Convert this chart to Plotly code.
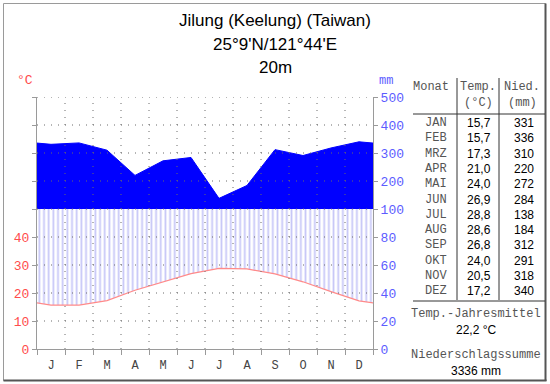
import plotly.graph_objects as go

# ---- data ----
months = ["J", "F", "M", "A", "M", "J", "J", "A", "S", "O", "N", "D"]
month_names = ["JAN", "FEB", "MRZ", "APR", "MAI", "JUN", "JUL", "AUG", "SEP", "OKT", "NOV", "DEZ"]
temps = [15.7, 15.7, 17.3, 21.0, 24.0, 26.9, 28.8, 28.6, 26.8, 24.0, 20.5, 17.2]
precip = [331, 336, 310, 220, 272, 284, 138, 184, 312, 291, 318, 340]
temp_ticks = ["0", "10", "20", "30", "40", "", "", "", "", ""]
mm_ticks = ["0", "20", "40", "60", "80", "100", "200", "300", "400", "500"]

title_lines = ["Jilung (Keelung) (Taiwan)", "25°9'N/121°44'E", "20m"]

W, H = 550, 384
L, R, T, B = 37, 373, 97, 349


def px(x):
    return (x - L) / (R - L)


def py(y):
    return (B - y) / (B - T)


def pdisp(p):
    # Walter-Lieth scale: 20 mm per 10 °C up to 100 mm, then 100 mm per 10 °C
    return p / 2 if p <= 100 else 50 + (p - 100) / 10


# wrap data (Dec before Jan, Jan after Dec), clipped by the axis range
xs = list(range(0, 14))
t_wrap = [temps[-1]] + temps + [temps[0]]
p_wrap = [precip[-1]] + precip + [precip[0]]
p_disp = [pdisp(p) for p in p_wrap]
humid_top = [min(v, 50) for v in p_disp]
base50 = [50] * len(xs)

RED = "#ff4c4c"
BLUE = "#5c5cff"
MONO = "Liberation Mono, Courier New, monospace"
SANS = "Liberation Sans, Arial, sans-serif"

fig = go.Figure()

# humid hatching between temperature curve and min(precip, 100mm)
fig.add_trace(go.Scatter(x=xs, y=humid_top, mode="lines", line=dict(width=0, color="rgba(0,0,0,0)"),
                         hoverinfo="skip", showlegend=False))
fig.add_trace(go.Scatter(x=xs, y=t_wrap, mode="lines", line=dict(width=1.2, color="#ff8a8a"),
                         fill="tonexty", fillcolor="rgba(0,0,0,0)",
                         fillpattern=dict(shape="|", fgcolor="#8f8ff0", bgcolor="white",
                                          size=4.67, solidity=0.38),
                         showlegend=False))
# perhumid solid fill above 100 mm
fig.add_trace(go.Scatter(x=xs, y=base50, mode="lines", line=dict(width=0, color="rgba(0,0,0,0)"),
                         hoverinfo="skip", showlegend=False))
fig.add_trace(go.Scatter(x=xs, y=p_disp, mode="lines", line=dict(width=1, color="#0000ff"),
                         fill="tonexty", fillcolor="#0000ff", showlegend=False))
# dummy trace for right axis
fig.add_trace(go.Scatter(x=[None], y=[None], yaxis="y2", showlegend=False))

shapes = []
# dotted grid above traces
for v in range(10, 100, 10):
    shapes.append(dict(type="line", xref="x", yref="y", x0=0.5, x1=12.5, y0=v, y1=v, layer="above",
                       line=dict(color="#6a6a6a", width=1, dash="1px,6px")))
for i in range(1, 12):
    shapes.append(dict(type="line", xref="x", yref="y", x0=i + 0.5, x1=i + 0.5, y0=0, y1=90, layer="above",
                       line=dict(color="#6a6a6a", width=1, dash="1px,6px")))

# outer frame
shapes.append(dict(type="rect", xref="paper", yref="paper", x0=px(3.5), x1=px(545.5), y0=py(3.5), y1=py(380.5),
                   line=dict(color="#9a9a9a", width=1), layer="above"))
shapes.append(dict(type="line", xref="paper", yref="paper", x0=px(545.5), x1=px(545.5), y0=py(3.5), y1=py(381),
                   line=dict(color="#555555", width=2), layer="above"))
shapes.append(dict(type="line", xref="paper", yref="paper", x0=px(3.5), x1=px(546.5), y0=py(380.5), y1=py(380.5),
                   line=dict(color="#555555", width=2), layer="above"))

# table lines
for lx in (457, 499):
    shapes.append(dict(type="line", xref="paper", yref="paper", x0=px(lx), x1=px(lx), y0=py(78), y1=py(300),
                       line=dict(color="#333333", width=1)))
for ly in (114, 301):
    shapes.append(dict(type="line", xref="paper", yref="paper", x0=px(413), x1=px(545), y0=py(ly), y1=py(ly),
                       line=dict(color="#333333", width=1)))

ann = []


def text(x, y, s, font, size, color, anchor="center"):
    ann.append(dict(x=px(x), y=py(y), xref="paper", yref="paper", text=s, showarrow=False,
                    xanchor=anchor, yanchor="middle", font=dict(family=font, size=size, color=color)))


for i, s in enumerate(title_lines):
    text(275, 21 + 23 * i, s, SANS, 17, "black")

text(25, 80, "°C", MONO, 13, RED)
text(386, 81, "mm", MONO, 12, BLUE)

text(431, 87, "Monat", MONO, 12, "#555555")
text(478, 87, "Temp.", MONO, 12, "#555555")
text(478, 103, "(°C)", MONO, 12, "#555555")
text(522, 87, "Nied.", MONO, 12, "#555555")
text(522, 103, "(mm)", MONO, 12, "#555555")

for i, (mn, t, p) in enumerate(zip(month_names, temps, precip)):
    y = 123 + 15.3 * i
    text(436, y, mn, MONO, 12, "#555555")
    text(493, y, f"{t:.1f}".replace(".", ","), SANS, 12, "black", "right")
    text(536, y, f"{p}", SANS, 12, "black", "right")

mean_t = sum(temps) / len(temps)
total_p = sum(precip)
text(476, 314, "Temp.-Jahresmittel", MONO, 12, "#555555")
text(476, 330, f"{mean_t:.1f} °C".replace(".", ","), SANS, 12, "black")
text(476, 355, "Niederschlagssumme", MONO, 12, "#555555")
text(476, 371, f"{total_p} mm", SANS, 12, "black")

fig.update_layout(
    width=W, height=H,
    margin=dict(l=L, r=W - R, t=T, b=H - B, pad=0),
    paper_bgcolor="white", plot_bgcolor="white",
    showlegend=False,
    shapes=shapes, annotations=ann,
    xaxis=dict(range=[0.5, 12.5], tickvals=list(range(1, 13)), ticktext=months, ticks="",
               ticklabelstandoff=5,
               showgrid=False, zeroline=False, showline=True, linecolor="#9a9a9a", linewidth=1,
               tickfont=dict(family=MONO, size=12, color="#444444"),
               minor=dict(tick0=0.5, dtick=1, ticks="outside", ticklen=5, tickcolor="#9a9a9a", showgrid=False),
               fixedrange=True),
    yaxis=dict(range=[0, 90], tickvals=list(range(0, 100, 10)), ticktext=temp_ticks,
               ticks="outside", ticklen=4, tickcolor="#9a9a9a",
               showgrid=False, zeroline=False, showline=True, linecolor="#9a9a9a", linewidth=1,
               tickfont=dict(family=MONO, size=13, color=RED)),
    yaxis2=dict(range=[0, 90], tickvals=list(range(0, 100, 10)), ticktext=mm_ticks, overlaying="y",
                side="right", anchor="x",
                ticks="outside", ticklen=4, tickcolor="#9a9a9a",
                showgrid=False, zeroline=False, showline=True, linecolor="#9a9a9a", linewidth=1,
                tickfont=dict(family=MONO, size=13, color=BLUE)),
)

fig.write_html("out.html", config={"displayModeBar": False},
               post_script="document.body.style.margin='0';document.body.style.padding='0';")
